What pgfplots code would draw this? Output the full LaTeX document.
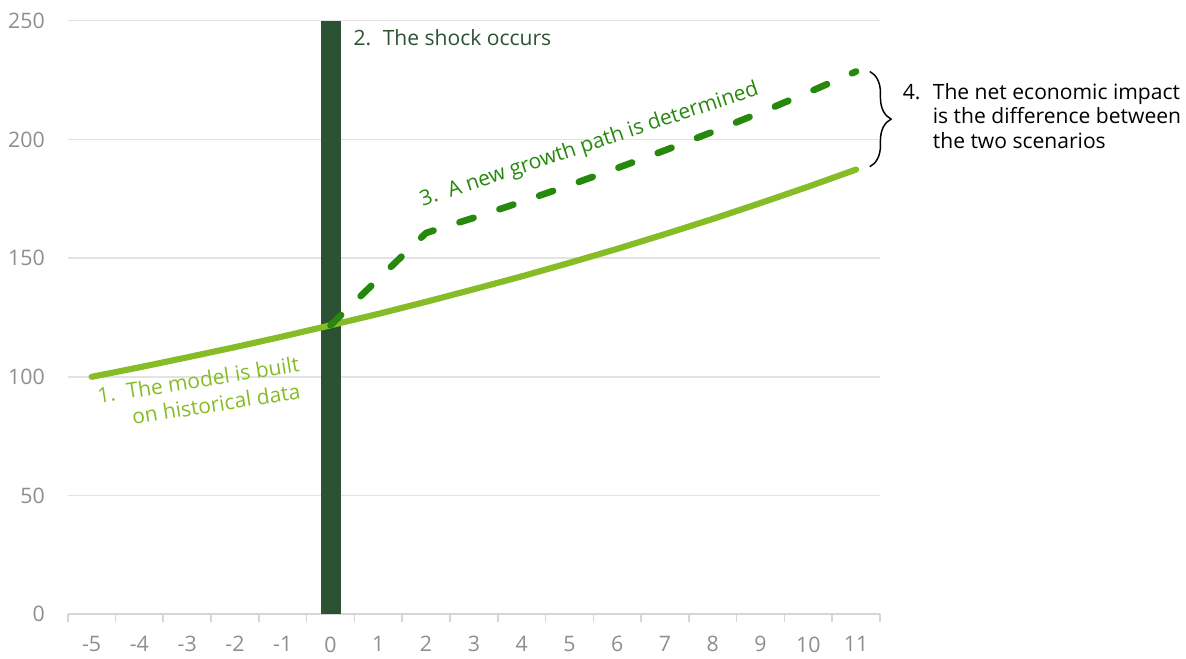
\documentclass[border=0pt]{standalone}
\usepackage{fontspec}
\setmainfont{Open Sans}
\usepackage{pgfplots}
\pgfplotsset{compat=1.18}
\usetikzlibrary{decorations.pathreplacing}

\definecolor{histgreen}{HTML}{86BC25}
\definecolor{pathgreen}{HTML}{26890D}
\definecolor{shockgreen}{HTML}{2C5234}
\definecolor{gridgray}{HTML}{E3E3E3}
\definecolor{axisgray}{HTML}{D6D6D6}
\definecolor{labelgray}{HTML}{8E8E8E}

\begin{document}
\begin{tikzpicture}
\useasboundingbox (0,0) rectangle (889.5pt,493.5pt);
\begin{axis}[
  at={(50.8pt,32.8pt)}, anchor=south west,
  scale only axis,
  width=609.2pt, height=445.2pt,
  xmin=-5.5, xmax=11.5,
  ymin=0, ymax=250,
  clip=false,
  axis x line*=bottom,
  axis y line*=left,
  y axis line style={draw=none},
  x axis line style={draw=axisgray, line width=1.4pt},
  xtick={-5,...,11},
  minor xtick={-5.5,-4.5,...,11.5},
  major tick length=0pt,
  minor tick length=6pt,
  tick align=outside,
  minor tick style={draw=axisgray, line width=1.2pt},
  ytick={0,50,...,250},
  ytick style={draw=none},
  ymajorgrids,
  major grid style={draw=gridgray, line width=1.1pt},
  /pgf/number format/assume math mode=true,
  ticklabel style={font=\fontsize{16}{19}\selectfont, text=labelgray, inner sep=0pt},
  yticklabel style={anchor=east, xshift=-17pt},
  xticklabel style={anchor=north, yshift=-16.5pt},
]

% the shock
\addplot[ybar, bar width=15pt, fill=shockgreen, draw=none] coordinates {(0,250)};

% baseline scenario, built on historical data
\addplot[histgreen, line width=4.6pt, line cap=round, line join=round] coordinates {
  (-5,100.0) (-4,104.0) (-3,108.2) (-2,112.5) (-1,117.0) (0,121.7)
  (1,126.5) (2,131.6) (3,136.9) (4,142.3) (5,148.0) (6,153.9)
  (7,160.1) (8,166.5) (9,173.2) (10,180.1) (11,187.3)};

% growth path after the shock
\addplot[pathgreen, line width=5pt, line cap=round, line join=round,
  dash pattern=on 11pt off 20.5pt] coordinates {
  (0,121.7) (1,141.2) (2,160.6) (3,167.0) (4,173.7) (5,180.7)
  (6,187.9) (7,195.4) (8,203.2) (9,211.3) (10,219.8) (11,228.6)};

\begin{scope}[font=\fontsize{15.8}{19}\selectfont]
\node[anchor=base east, rotate=9, text=histgreen, inner sep=0pt]
  at (axis cs:-0.63,102.2) {1.\hspace{0.55em}The model is built};
\node[anchor=base east, rotate=9, text=histgreen, inner sep=0pt]
  at (axis cs:-0.61,91.0) {on historical data};
\node[anchor=base west, text=shockgreen, inner sep=0pt]
  at (axis cs:0.476,239.4) {2.\hspace{0.55em}The shock occurs};
\node[anchor=base west, rotate=18.4, text=pathgreen, inner sep=0pt]
  at (axis cs:1.924,171.7) {3.\hspace{0.55em}A new growth path is determined};
\node[anchor=base west, inner sep=0pt] at (axis cs:11.972,216.9) {4.};
\node[anchor=base west, inner sep=0pt] at (axis cs:12.601,216.9) {The net economic impact};
\node[anchor=base west, inner sep=0pt] at (axis cs:12.601,206.5) {is the difference between};
\node[anchor=base west, inner sep=0pt] at (axis cs:12.601,196.0) {the two scenarios};
\end{scope}

\draw[black, line width=1.1pt, decorate,
  decoration={brace, amplitude=16pt}]
  (axis cs:11.286,228.6) -- (axis cs:11.286,188.5);
\end{axis}
\end{tikzpicture}
\end{document}
